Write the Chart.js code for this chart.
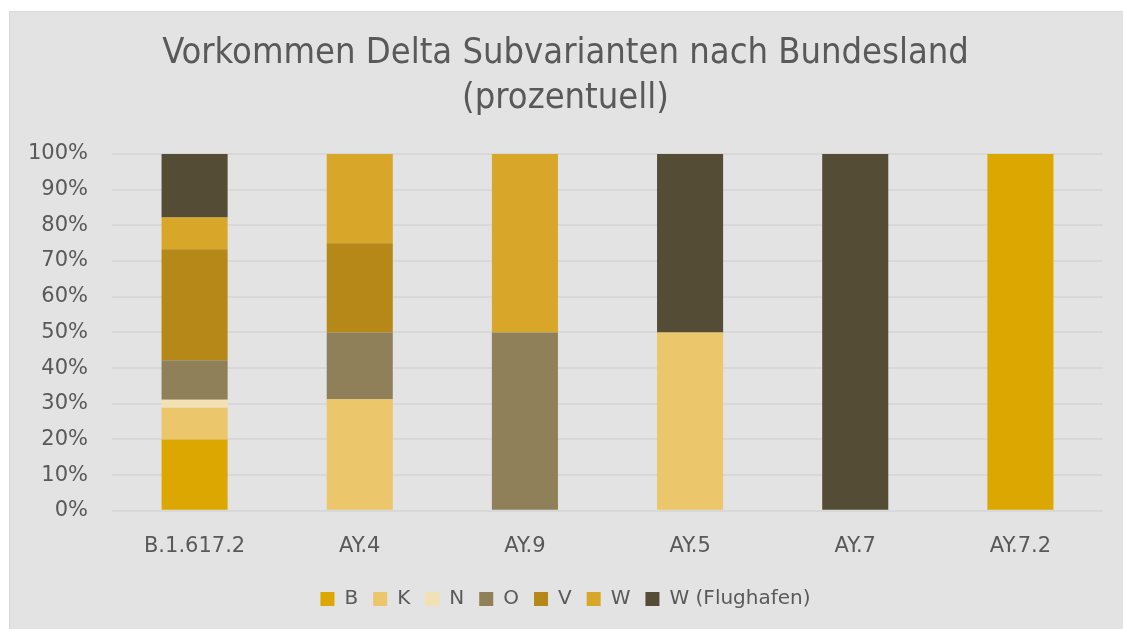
<!DOCTYPE html>
<html>
<head>
<meta charset="utf-8">
<script src="https://cdn.jsdelivr.net/npm/chart.js@4.4.0/dist/chart.umd.min.js"></script>
<style>
  body { margin: 0; background: #ffffff; }
  #wrap {
    position: absolute; left: 9px; top: 11px;
    width: 1114px; height: 618px;
    background: #e3e3e3;
    border-left: 1px solid #d9d9d9; border-top: 1px solid #d9d9d9;
    box-sizing: border-box;
  }
</style>
</head>
<body>
<div id="wrap"><canvas id="deltaChart"></canvas></div>
<script>
// Subvarianten (x-Achse)
var lineages = ["B.1.617.2", "AY.4", "AY.9", "AY.5", "AY.7", "AY.7.2"];

// Anteil je Bundesland in %
var bShare  = [20.0, 0, 0, 0, 0, 100];
var kShare  = [8.9, 31.25, 0, 50, 0, 0];
var nShare  = [2.2, 0, 0, 0, 0, 0];
var oShare  = [11.1, 18.75, 50, 0, 0, 0];
var vShare  = [31.1, 25, 0, 0, 0, 0];
var wShare  = [8.9, 25, 50, 0, 0, 0];
var wfShare = [17.8, 0, 0, 50, 100, 0];

var yTicks = [0, 10, 20, 30, 40, 50, 60, 70, 80, 90, 100];

var seriesNames  = ["B", "K", "N", "O", "V", "W", "W (Flughafen)"];
var seriesValues = [bShare, kShare, nShare, oShare, vShare, wShare, wfShare];
var seriesColors = ["#dba700", "#ebc66a", "#f2e1b4", "#8f8059", "#b58817", "#d8a72a", "#544c35"];

var fontFam = "'DejaVu Sans', sans-serif";
var titleFam = "'DejaVu Sans Condensed', 'DejaVu Sans', sans-serif";
var txtColor = "#595959";

var datasets = [];
for (var i = 0; i < seriesNames.length; i++) {
  datasets.push({
    label: seriesNames[i],
    data: seriesValues[i],
    backgroundColor: seriesColors[i],
    borderWidth: 0,
    categoryPercentage: 1.0,
    barPercentage: 0.4
  });
}

var ctx = document.getElementById("deltaChart");
var deltaChart = new Chart(ctx, {
  type: 'bar',
  data: { labels: lineages, datasets: datasets },
  options: {
    responsive: true,
    maintainAspectRatio: false,
    animation: false,
    layout: { padding: { left: 18, right: 20, top: 19, bottom: 10 } },
    plugins: {
      title: {
        display: true,
        text: ["Vorkommen Delta Subvarianten nach Bundesland", "(prozentuell)"],
        color: txtColor,
        font: { family: titleFam, size: 36, weight: 'normal', lineHeight: 1.25 },
        padding: { top: 0, bottom: 33 }
      },
      legend: {
        position: 'bottom',
        labels: {
          color: txtColor,
          font: { family: fontFam, size: 20 },
          boxWidth: 14,
          boxHeight: 14,
          padding: 15
        }
      },
      tooltip: { enabled: false }
    },
    scales: {
      x: {
        stacked: true,
        grid: { display: false },
        border: { display: false },
        ticks: { color: txtColor, font: { family: fontFam, size: 21 }, padding: 15 },
        afterFit: function(scale) {
          scale.paddingLeft = 0;
          scale.paddingRight = 0;
        }
      },
      y: {
        stacked: true,
        min: 0,
        max: 100,
        afterBuildTicks: function(axis) {
          axis.ticks = yTicks.map(function(v) { return { value: v }; });
        },
        afterFit: function(scale) {
          // label column + gap to the plot, as in the original
          scale.width = 84;
        },
        grid: { color: "#d8d8d8", lineWidth: 2, drawTicks: false },
        border: { display: false },
        ticks: {
          color: txtColor,
          font: { family: fontFam, size: 21 },
          padding: 24,
          callback: function(v) { return v + "%"; }
        }
      }
    }
  }
});
</script>
</body>
</html>
